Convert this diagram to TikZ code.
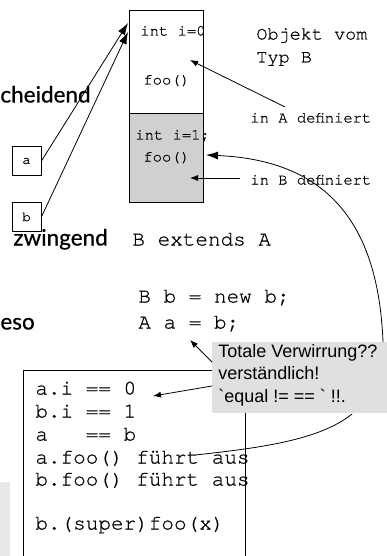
\documentclass[tikz,border=0pt]{standalone}
\usepackage{fontspec}
\setmainfont{Liberation Sans}
\newfontfamily\callfont{Liberation Sans}[Ligatures=TeXOff]
\newfontfamily\monofont{TeX Gyre Cursor}[FakeBold=0.6]
\newfontfamily\comicfont{Lato}[FakeBold=0.6]
\usetikzlibrary{arrows.meta}
\definecolor{objgray}{RGB}{208,208,208}
\definecolor{callgray}{RGB}{224,224,224}
\definecolor{sidegray}{RGB}{232,232,232}
\begin{document}
\begin{tikzpicture}[x=1pt,y=-1pt,line width=0.8pt,
  txt/.style={inner sep=0pt,anchor=west,text height=0.7em,text depth=0.2em},
  smallmono/.style={txt,font=\monofont\fontsize{15.5}{16}\selectfont},
  midmono/.style={txt,font=\monofont\fontsize{18.5}{20}\selectfont},
  bigmono/.style={txt,font=\monofont\fontsize{21}{22}\selectfont},
  comic/.style={txt,font=\comicfont\fontsize{22.5}{24}\selectfont},
  calltxt/.style={inner sep=0pt,anchor=north west,align=left,font=\callfont\fontsize{18}{22.5}\selectfont},
  varbox/.style={draw,inner sep=0pt,minimum size=29pt,font=\monofont\fontsize{14}{14}\selectfont},
  bigarrow/.style={-{Latex[length=12pt,width=8pt]}},
  arr/.style={-{Latex[length=8pt,width=6pt]}}]
\useasboundingbox (0,0) rectangle (386,556);
% left side cut-off texts
\fill[sidegray] (0,482) rectangle (10,560);
\node[comic] (t1) at (0,100) {cheidend};
\node[comic] (t2) at (13,243) {zwingend};
\node[comic] (t3) at (0,327) {eso};
% object box
\node[draw,anchor=north west,inner sep=0pt,minimum width=74pt,minimum height=103pt] (objA) at (129,10) {};
\node[draw,fill=objgray,anchor=north west,inner sep=0pt,minimum width=74pt,minimum height=89pt] (objB) at (129,113) {};
\node[smallmono] (ia) at (140,33) {int i=0};
\node[smallmono] (fa) at (143,82) {foo()};
\node[smallmono] (ib) at (135,137) {int i=1;};
\node[smallmono] (fb) at (143,159) {foo()};
\node[midmono] (obj1) at (256,37) {Objekt vom};
\node[midmono] (obj2) at (256,60) {Typ B};
\node[smallmono] (inA) at (250,120) {in A definiert};
\node[smallmono] (inB) at (250,182) {in B definiert};
% variables
\node[varbox] (boxa) at (26.5,161) {a};
\node[varbox] (boxb) at (26.5,217) {b};
\coordinate (tipa) at (128,23);
\coordinate (tipb) at (128,32);
\draw[bigarrow] (boxa.east) -- (tipa);
\draw[bigarrow] (boxb.east) -- (tipb);
% definition arrows
\coordinate (inAstart) at (285,107);
\coordinate (inAtip) at (190,60);
\draw[arr] (inAstart) -- (inAtip);
\coordinate (inBstart) at (240,178);
\coordinate (inBtip) at (190,178);
\draw[arr] (inBstart) -- (inBtip);
% code
\node[bigmono] (ext) at (132,243) {B extends A};
\node[bigmono] (new1) at (138,300) {B b = new b;};
\node[bigmono] (new2) at (138,326) {A a = b;};
\node[draw,anchor=north west,inner sep=0pt,minimum width=222pt,minimum height=200pt] (codebox) at (23,370) {};
\node[bigmono] (c1) at (35,392) {a.i == 0};
\node[bigmono] (c2) at (35,415) {b.i == 1};
\node[bigmono] (c3) at (35,438) {a\ \ \ == b};
\node[bigmono] (c4) at (35,461) {a.foo() führt aus};
\node[bigmono] (c5) at (35,483) {b.foo() führt aus};
\node[bigmono] (c6) at (35,527) {b.(super)foo(x)};
% callout
\node[fill=callgray,anchor=north west,inner sep=0pt,minimum width=180pt,minimum height=71pt] (callout) at (212,342) {};
\node[calltxt] (ctext) at (218,344) {Totale Verwirrung??\\verständlich!\\`equal != == ` !!.};
\coordinate (cA) at (212,362);
\coordinate (cAtip) at (190,340);
\draw[arr] (cA) -- (cAtip);
\coordinate (cI) at (212,386);
\coordinate (cItip) at (153,396);
\draw[arr] (cI) -- (cItip);
\coordinate (cTop) at (383,342);
\coordinate (fooTip) at (206,155);
\draw[bigarrow] (cTop) .. controls (378,215) and (320,160) .. (fooTip);
\coordinate (cBot) at (352,414);
\coordinate (cEnd) at (195,455);
\draw (cBot) .. controls (320,440) and (260,448) .. (cEnd);
\end{tikzpicture}
\end{document}
